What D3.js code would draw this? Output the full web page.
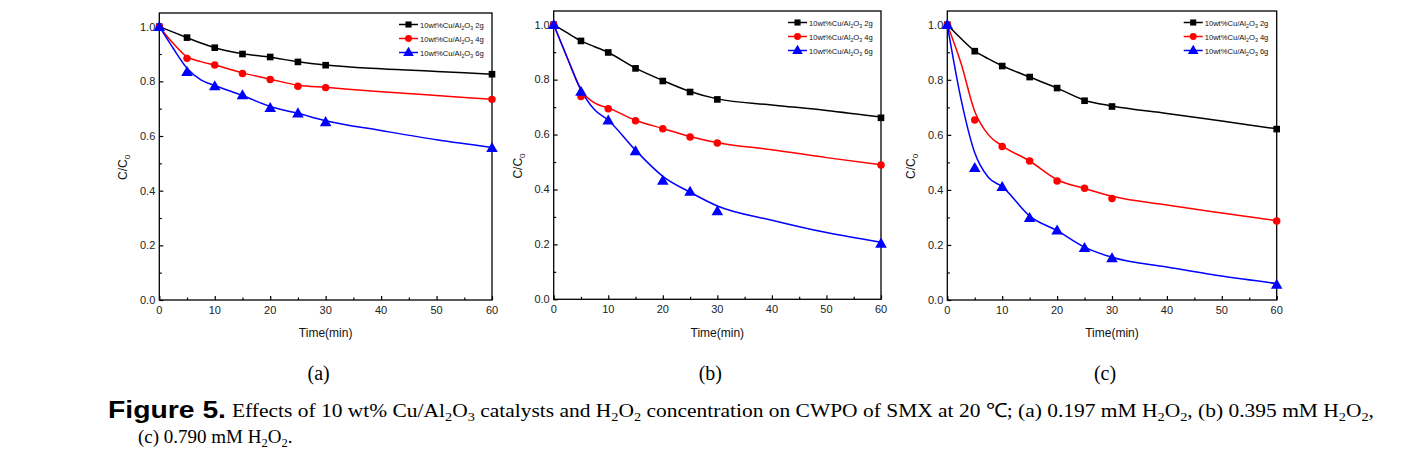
<!DOCTYPE html>
<html><head><meta charset="utf-8">
<script src="https://cdn.jsdelivr.net/npm/d3@7"></script>
<style>body{margin:0;background:#fff;overflow:hidden}</style></head>
<body>
<svg id="chart" width="1414" height="456"></svg>
<script>
// ---------- DATA ----------
const times = [0, 5, 10, 15, 20, 25, 30, 60];
const fitTimes = [0, 2.5, 5, 7.5, 10, 15, 20, 25, 30, 40, 50, 60];
const seriesLabels = ["2g", "4g", "6g"];
const panelLabels = ["(a)", "(b)", "(c)"];
const xTicks = [0, 10, 20, 30, 40, 50, 60];
const yTicks = [0.0, 0.2, 0.4, 0.6, 0.8, 1.0];

// panel (a) 0.197 mM H2O2
const a2g = [1.0, 0.960, 0.923, 0.900, 0.889, 0.871, 0.859, 0.826];
const a4g = [1.0, 0.884, 0.860, 0.829, 0.807, 0.782, 0.777, 0.734];
const a6g = [1.0, 0.835, 0.783, 0.750, 0.704, 0.684, 0.652, 0.557];
const a2gFit = [1.0, 0.980, 0.960, 0.940, 0.923, 0.901, 0.888, 0.872, 0.860, 0.846, 0.836, 0.826];
const a4gFit = [1.0, 0.939, 0.890, 0.872, 0.860, 0.831, 0.808, 0.786, 0.778, 0.762, 0.748, 0.734];
const a6gFit = [1.0, 0.921, 0.848, 0.805, 0.785, 0.748, 0.708, 0.683, 0.656, 0.620, 0.586, 0.558];

// panel (b) 0.395 mM H2O2
const b2g = [1.0, 0.941, 0.899, 0.841, 0.795, 0.755, 0.728, 0.661];
const b4g = [1.0, 0.739, 0.694, 0.650, 0.621, 0.591, 0.569, 0.489];
const b6g = [1.0, 0.757, 0.652, 0.540, 0.433, 0.393, 0.322, 0.204];
const b2gFit = [1.0, 0.970, 0.941, 0.920, 0.899, 0.842, 0.797, 0.757, 0.730, 0.708, 0.688, 0.664];
const b4gFit = [1.0, 0.879, 0.763, 0.715, 0.697, 0.652, 0.622, 0.593, 0.570, 0.545, 0.516, 0.490];
const b6gFit = [1.0, 0.879, 0.763, 0.690, 0.652, 0.543, 0.448, 0.390, 0.340, 0.288, 0.243, 0.208];

// panel (c) 0.790 mM H2O2
const c2g = [1.0, 0.904, 0.850, 0.810, 0.770, 0.724, 0.703, 0.621];
const c4g = [1.0, 0.654, 0.558, 0.505, 0.432, 0.406, 0.369, 0.287];
const c6g = [1.0, 0.481, 0.412, 0.299, 0.254, 0.190, 0.153, 0.057];
const c2gFit = [1.0, 0.950, 0.905, 0.876, 0.851, 0.810, 0.770, 0.726, 0.705, 0.678, 0.650, 0.622];
const c4gFit = [1.0, 0.860, 0.685, 0.600, 0.560, 0.505, 0.437, 0.405, 0.377, 0.345, 0.316, 0.288];
const c6gFit = [1.0, 0.730, 0.535, 0.445, 0.412, 0.305, 0.252, 0.192, 0.155, 0.120, 0.087, 0.060];

// ---------- LAYOUT ----------
const colors = ["#000000", "#ff0000", "#0000ff"];
const symbols = [d3.symbolSquare, d3.symbolCircle, d3.symbolTriangle];
const symSizes = [44, 44, 58];
const panels = [
  {x0: 159.3, x1: 492, yb: 300, yt: 13, pts: [a2g, a4g, a6g], fits: [a2gFit, a4gFit, a6gFit]},
  {x0: 553.7, x1: 881, yb: 299.3, yt: 11, pts: [b2g, b4g, b6g], fits: [b2gFit, b4gFit, b6gFit]},
  {x0: 947.3, x1: 1276.7, yb: 300, yt: 11, pts: [c2g, c4g, c6g], fits: [c2gFit, c4gFit, c6gFit]}
];

const svg = d3.select("#chart");
const sans = "'Liberation Sans', Arial, sans-serif";
const serif = "'Liberation Serif', 'Times New Roman', serif";

// text with subscripts: parts are strings or {sub: "x"}
function rich(sel, parts, subSize, shift) {
  let pending = 0;
  parts.forEach(pt => {
    if (typeof pt === "string") {
      sel.append("tspan").attr("dy", pending ? -shift : 0).text(pt);
      pending = 0;
    } else {
      sel.append("tspan").attr("font-size", subSize).attr("dy", pending ? 0 : shift).text(pt.sub);
      pending = 1;
    }
  });
}

panels.forEach((p, pi) => {
  const x = d3.scaleLinear().domain([0, 60]).range([p.x0, p.x1]);
  const y = d3.scaleLinear().domain([0, 1.05]).range([p.yb, p.yt]);
  const g = svg.append("g");

  const yMinor = d3.range(0.1, 1.05, 0.2);
  const xMinor = d3.range(5, 60, 10);

  // y axis (ticks inward)
  g.append("g").attr("transform", `translate(${p.x0},0)`)
    .call(d3.axisRight(y).tickValues(yTicks).tickSize(4).tickFormat(""))
    .call(s => s.select(".domain").remove())
    .call(s => s.selectAll("line").attr("stroke", "#000").attr("stroke-width", 1.2));
  g.append("g").attr("transform", `translate(${p.x0},0)`)
    .call(d3.axisRight(y).tickValues(yMinor).tickSize(2.5).tickFormat(""))
    .call(s => s.select(".domain").remove())
    .call(s => s.selectAll("line").attr("stroke", "#000").attr("stroke-width", 1.2));
  g.selectAll(".ylab").data(yTicks).enter().append("text")
    .attr("x", p.x0 - 4).attr("y", d => y(d)).attr("dy", "0.35em")
    .attr("text-anchor", "end").attr("font-family", sans).attr("font-size", 11)
    .attr("fill", "#222").text(d => d.toFixed(1));

  // x axis (ticks inward)
  g.append("g").attr("transform", `translate(0,${p.yb})`)
    .call(d3.axisTop(x).tickValues(xTicks).tickSize(4).tickFormat(""))
    .call(s => s.select(".domain").remove())
    .call(s => s.selectAll("line").attr("stroke", "#000").attr("stroke-width", 1.2));
  g.append("g").attr("transform", `translate(0,${p.yb})`)
    .call(d3.axisTop(x).tickValues(xMinor).tickSize(2.5).tickFormat(""))
    .call(s => s.select(".domain").remove())
    .call(s => s.selectAll("line").attr("stroke", "#000").attr("stroke-width", 1.2));
  g.selectAll(".xlab").data(xTicks).enter().append("text")
    .attr("x", d => x(d)).attr("y", p.yb + 10).attr("dy", "0.35em")
    .attr("text-anchor", "middle").attr("font-family", sans).attr("font-size", 11)
    .attr("fill", "#222").text(d => d);

  // axis titles
  g.append("text").attr("x", (p.x0 + p.x1) / 2).attr("y", p.yb + 33).attr("dy", "0.35em")
    .attr("text-anchor", "middle").attr("font-family", sans).attr("font-size", 12)
    .attr("fill", "#111").text("Time(min)");
  const yl = g.append("text")
    .attr("transform", `translate(${p.x0 - 32},${(p.yb + y(1.0)) / 2 + 4}) rotate(-90)`)
    .attr("text-anchor", "middle").attr("font-family", sans).attr("font-size", 12).attr("fill", "#111");
  yl.append("tspan").text("C/C");
  yl.append("tspan").attr("font-size", 8).attr("dy", 3).text("0");

  // frame
  g.append("rect").attr("x", p.x0).attr("y", p.yt).attr("width", p.x1 - p.x0).attr("height", p.yb - p.yt)
    .attr("fill", "none").attr("stroke", "#000").attr("stroke-width", 1.3);

  // fitted curves
  const line = d3.line().x((d, i) => x(fitTimes[i])).y(d => y(d)).curve(d3.curveMonotoneX);
  const plot = g.append("g");
  p.fits.forEach((f, si) => {
    plot.append("path").datum(f).attr("d", line).attr("fill", "none")
      .attr("stroke", colors[si]).attr("stroke-width", 1.5);
  });
  // markers
  p.pts.forEach((vals, si) => {
    plot.selectAll(".m" + si).data(vals).enter().append("path")
      .attr("transform", (d, i) => `translate(${x(times[i])},${y(d) + (si === 2 ? 1 : 0)})`)
      .attr("d", d3.symbol().type(symbols[si]).size(symSizes[si]))
      .attr("fill", colors[si]);
  });

  // legend
  const lx = p.x1 - 93, ly = p.yt + 11.5;
  seriesLabels.forEach((lab, si) => {
    const yy = ly + si * 14;
    g.append("line").attr("x1", lx).attr("x2", lx + 19).attr("y1", yy).attr("y2", yy)
      .attr("stroke", colors[si]).attr("stroke-width", 1.5);
    g.append("path").attr("transform", `translate(${lx + 9.5},${yy + (si === 2 ? 0.5 : 0)})`)
      .attr("d", d3.symbol().type(symbols[si]).size(symSizes[si] * 0.85)).attr("fill", colors[si]);
    const t = g.append("text").attr("x", lx + 21).attr("y", yy + 3)
      .attr("font-family", sans).attr("font-size", 7.6).attr("fill", "#111");
    rich(t, ["10wt%Cu/Al", {sub: "2"}, "O", {sub: "3"}, " " + lab], 5.2, 2);
  });

  // panel label
  svg.append("text").attr("x", (p.x0 + p.x1) / 2 - 7).attr("y", 380)
    .attr("text-anchor", "middle").attr("font-family", serif).attr("font-size", 20)
    .attr("fill", "#000").text(panelLabels[pi]);
});

// ---------- CAPTION ----------
svg.append("text").attr("x", 108).attr("y", 418).attr("font-family", sans).attr("font-weight", "bold")
  .attr("font-size", 23).attr("fill", "#000").attr("textLength", 118).attr("lengthAdjust", "spacingAndGlyphs")
  .text("Figure 5.");

const cap1 = svg.append("text").attr("x", 232).attr("y", 417).attr("font-family", serif)
  .attr("font-size", 19.5).attr("fill", "#000")
  .attr("textLength", 1142).attr("lengthAdjust", "spacingAndGlyphs");
rich(cap1, ["Effects of 10 wt% Cu/Al", {sub: "2"}, "O", {sub: "3"},
  " catalysts and H", {sub: "2"}, "O", {sub: "2"}, " concentration on CWPO of SMX at 20 \u2103; (a) 0.197 mM H",
  {sub: "2"}, "O", {sub: "2"}, ", (b) 0.395 mM H", {sub: "2"}, "O", {sub: "2"}, ","], 13, 4);
const cap2 = svg.append("text").attr("x", 138).attr("y", 443).attr("font-family", serif)
  .attr("font-size", 19).attr("fill", "#000");
rich(cap2, ["(c) 0.790 mM H", {sub: "2"}, "O", {sub: "2"}, "."], 12.5, 4);
</script>
</body></html>
